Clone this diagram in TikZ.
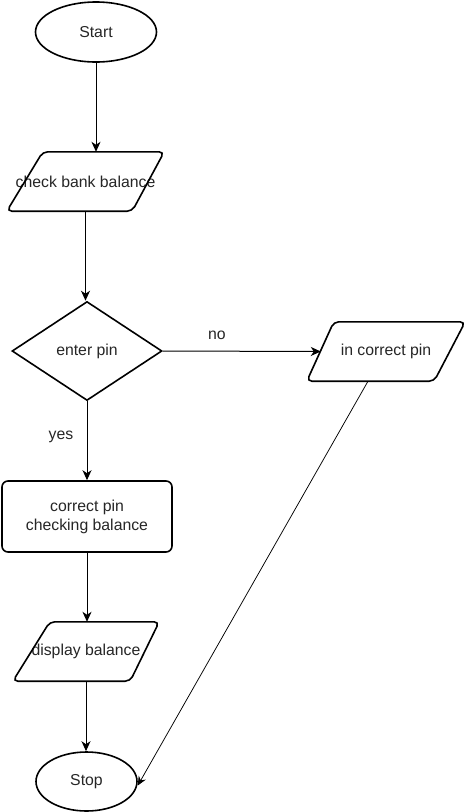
\documentclass[tikz,border=0pt]{standalone}
\usepackage{fontspec}
\setmainfont{Liberation Sans}
\usetikzlibrary{shapes.geometric,arrows.meta}
\begin{document}
\begin{tikzpicture}[x=1pt,y=-1pt,
  every node/.style={font=\fontsize{15.8}{19}\selectfont, text=black!85},
  shp/.style={draw=black, line width=1.6pt},
  box/.style={minimum width=#1, inner sep=0pt},
  conn/.style={line width=1pt, -{Stealth[length=10pt,width=9pt,inset=3pt]}},
  thinconn/.style={line width=0.75pt, -{Stealth[length=9pt,width=8pt,inset=3pt]}},
  lbl/.style={inner sep=0pt}]
\useasboundingbox (0,0) rectangle (467,812);
\fill[white] (0,0) rectangle (467,812);

% nodes
\node[shp, ellipse, minimum width=121, minimum height=60, inner sep=0pt] (start) at (96,32) {Start};
\node[box=157, minimum height=59] (chk) at (85.5,181.5) {check bank balance};
\node[shp, diamond, minimum width=150, minimum height=99, inner sep=0pt] (pin) at (87,351) {enter pin};
\node[box=158, minimum height=59] (ic) at (386,351.5) {in correct pin};
\node[shp, rounded corners=6pt, minimum width=170, minimum height=71, inner sep=0pt, align=center] (cp) at (87,516.5) {correct pin\\checking balance};
\node[box=146, minimum height=59] (disp) at (86,651.5) {display balance};
\node[shp, ellipse, minimum width=101, minimum height=59, inner sep=0pt] (stop) at (86.5,781.5) {Stop};

% parallelogram outlines
\draw[shp, rounded corners=5pt] ([xshift=36]chk.north west) -- (chk.north east) -- ([xshift=-32]chk.south east) -- (chk.south west) -- cycle;
\draw[shp, rounded corners=5pt] ([xshift=27]ic.north west) -- (ic.north east) -- ([xshift=-31]ic.south east) -- (ic.south west) -- cycle;
\draw[shp, rounded corners=5pt] ([xshift=37]disp.north west) -- (disp.north east) -- ([xshift=-29]disp.south east) -- (disp.south west) -- cycle;

% connectors
\draw[conn] (start.south) -- (start.south |- chk.north);
\draw[conn] (chk.south) -- (chk.south |- pin.north);
\draw[conn] (pin.east) -- ([xshift=14]ic.west);
\draw[conn] (pin.south) -- (cp.north);
\draw[conn] (cp.south) -- (cp.south |- disp.north);
\draw[conn] (disp.south) -- (disp.south |- stop.north);
\draw[thinconn] ([xshift=-18]ic.south) -- ([yshift=-4]stop.east);

% labels
\node[lbl] (nolbl) at (217,335) {no};
\node[lbl] (yeslbl) at (61,437) {yes};
\end{tikzpicture}
\end{document}
